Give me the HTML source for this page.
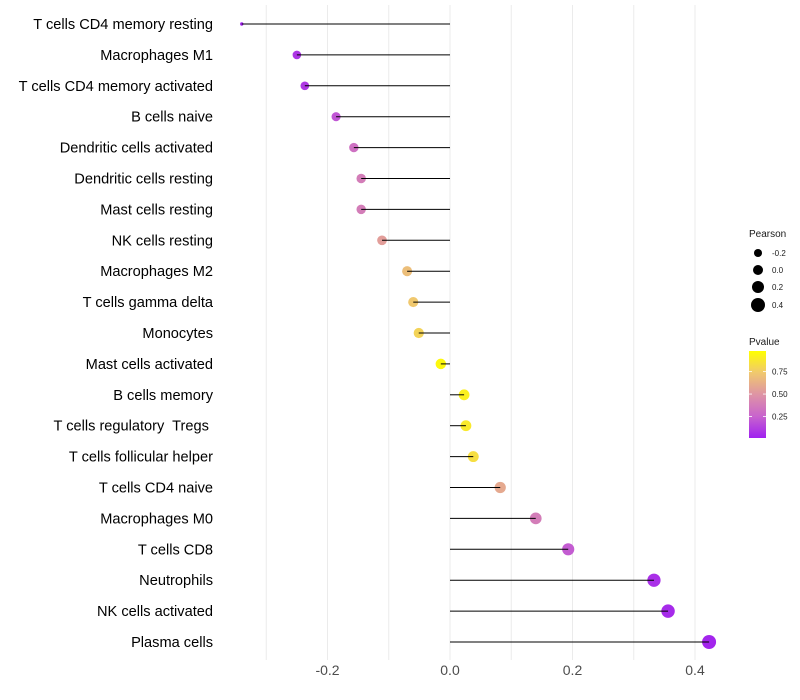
<!DOCTYPE html>
<html><head><meta charset="utf-8"><style>
body{margin:0;background:#fff;font-family:"Liberation Sans",sans-serif;}
svg{display:block}
text{white-space:pre}
</style></head><body>
<svg id="chart" width="800" height="700" xmlns="http://www.w3.org/2000/svg"></svg>
<script>
const categories=["T cells CD4 memory resting","Macrophages M1","T cells CD4 memory activated","B cells naive","Dendritic cells activated","Dendritic cells resting","Mast cells resting","NK cells resting","Macrophages M2","T cells gamma delta","Monocytes","Mast cells activated","B cells memory","T cells regulatory  Tregs ","T cells follicular helper","T cells CD4 naive","Macrophages M0","T cells CD8","Neutrophils","NK cells activated","Plasma cells"];
const pearson=[-0.340,-0.250,-0.237,-0.186,-0.157,-0.145,-0.145,-0.111,-0.070,-0.060,-0.051,-0.015,0.023,0.026,0.038,0.082,0.140,0.193,0.333,0.356,0.423];
const pvalue=[0.01,0.08,0.09,0.2,0.32,0.38,0.38,0.55,0.7,0.75,0.8,0.97,0.93,0.9,0.85,0.6,0.38,0.22,0.06,0.04,0.02];
const xTicks=[-0.2,0.0,0.2,0.4];
const xGrid=[-0.3,-0.2,-0.1,0,0.1,0.2,0.3,0.4];
const sizeLegend=[-0.2,0.0,0.2,0.4];
const pTicks=[0.25,0.5,0.75];

const NS="http://www.w3.org/2000/svg";
const svg=document.getElementById('chart');
const x=v=>450+v*612.5;
const y=i=>24+i*30.9;
const rad=v=>v<-0.3?1.7:5.3+4*v;
const stops=[[0,[160,32,240]],[0.25,[200,100,205]],[0.5,[222,148,165]],[0.75,[240,200,110]],[1,[255,255,0]]];
function col(p){for(let k=1;k<stops.length;k++){if(p<=stops[k][0]){const a=stops[k-1],b=stops[k];const t=(p-a[0])/(b[0]-a[0]);return 'rgb('+a[1].map((c,j)=>Math.round(c+(b[1][j]-c)*t)).join(',')+')';}}return 'rgb(255,255,0)';}
function mk(tag,attrs,parent){const e=document.createElementNS(NS,tag);for(const k in attrs)e.setAttribute(k,attrs[k]);(parent||svg).appendChild(e);return e;}

xGrid.forEach(v=>{const l=mk('line',{x1:x(v),x2:x(v),y1:5,y2:660,stroke:'#ebebeb','stroke-width':1});

});
xTicks.forEach(v=>{const t=mk('text',{x:x(v),y:675,'text-anchor':'middle','font-size':14,fill:'#4d4d4d'});t.textContent=v.toFixed(1);

});
categories.forEach((c,i)=>{
const t=mk('text',{x:213,y:y(i)+5,'text-anchor':'end','font-size':14.6,fill:'#000'});t.textContent=c;


const d=mk('circle',{cx:x(pearson[i]),cy:y(i),r:rad(pearson[i]),fill:col(pvalue[i])});


const l=mk('line',{x1:x(0),x2:x(pearson[i]),y1:y(i),y2:y(i),stroke:'#000','stroke-width':1});


});
let t=mk('text',{x:749,y:237,'font-size':10,fill:'#1a1a1a'});t.textContent='Pearson';

sizeLegend.forEach((v,k)=>{const cy=[253,270,287,305][k];
const c=mk('circle',{cx:758,cy:cy,r:4+5*(v+0.2),fill:'#000'});

const tt=mk('text',{x:772,y:cy+3,'font-size':8,fill:'#1a1a1a'});tt.textContent=v.toFixed(1);
});
t=mk('text',{x:749,y:345,'font-size':10,fill:'#1a1a1a'});t.textContent='Pvalue';

const defs=mk('defs',{});const g=mk('linearGradient',{id:'pg',x1:0,y1:1,x2:0,y2:0},defs);
stops.forEach(s=>mk('stop',{offset:s[0],'stop-color':'rgb('+s[1].join(',')+')'},g));
const bar=mk('rect',{x:749,y:351,width:17,height:87,fill:'url(#pg)'});

pTicks.forEach(p=>{const yy=438-(p-0.01)/0.97*87;
mk('line',{x1:749,x2:752,y1:yy,y2:yy,stroke:'#fff','stroke-width':0.8});mk('line',{x1:763,x2:766,y1:yy,y2:yy,stroke:'#fff','stroke-width':0.8});
const tt=mk('text',{x:772,y:yy+3,'font-size':8,fill:'#1a1a1a'});tt.textContent=p.toFixed(2);
});
</script>
</body></html>
